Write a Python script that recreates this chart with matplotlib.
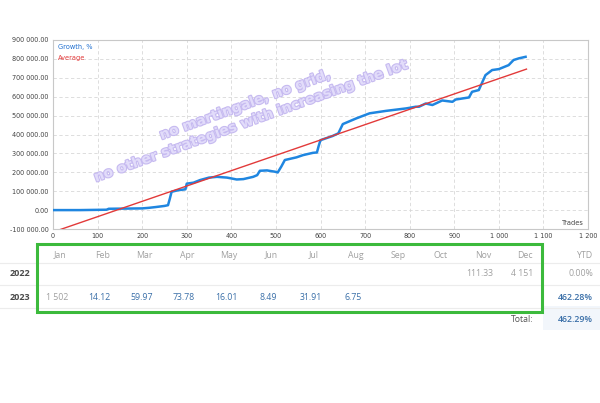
import matplotlib
matplotlib.use("Agg")
import matplotlib.pyplot as plt
import matplotlib.patheffects as pe
from matplotlib.patches import Rectangle
from matplotlib.ticker import FuncFormatter, MultipleLocator

# growth curve (trades, value)
trades = [0, 60, 120, 125, 200, 215, 230, 250, 258, 262, 266, 280, 297, 300, 315,
          330, 350, 368, 390, 397, 412, 427, 449, 458, 464, 480, 498, 504, 512, 520,
          546, 561, 583, 592, 596, 600, 627, 640, 650, 680, 710, 747, 792, 814, 821,
          836, 851, 873, 896, 903, 933, 940, 955, 970, 985, 1000, 1022, 1033, 1045, 1060]
growth = [0, 0, 2000, 7000, 9000, 12000, 16000, 22000, 26000, 60000, 97000, 105000,
          110000, 140000, 145000, 159000, 172000, 176000, 172000, 169000, 162000,
          164000, 176000, 185000, 208000, 210000, 203000, 199000, 230000, 265000,
          279000, 291000, 303000, 305000, 340000, 370000, 392000, 406000, 455000,
          485000, 512000, 525000, 538000, 547000, 547000, 564000, 556000, 580000,
          573000, 585000, 596000, 626000, 635000, 714000, 741000, 746000, 767000,
          794000, 803000, 811000]

avg_x = [0, 1062]
avg_y = [-116000, 746000]

months = ["Jan", "Feb", "Mar", "Apr", "May", "Jun", "Jul", "Aug", "Sep", "Oct", "Nov", "Dec"]
years = ["2022", "2023"]
row_2022 = ["", "", "", "", "", "", "", "", "", "", "111.33", "4 151"]
row_2023 = ["1 502", "14.12", "59.97", "73.78", "16.01", "8.49", "31.91", "6.75", "", "", "", ""]
ytd = ["0.00%", "462.28%"]
total = "462.29%"

W, H = 600, 403
fig = plt.figure(figsize=(W / 100, H / 100), dpi=100)
fig.patch.set_facecolor("white")


def fx(x):
    return x / W


def fy(y):
    return 1 - y / H


ax = fig.add_axes([fx(53), fy(229), (588 - 53) / W, (229 - 40) / H])
ax.plot(trades, growth, color="#1f86e0", lw=1.8, solid_joinstyle="round", zorder=3)
ax.plot(avg_x, avg_y, color="#e23a3a", lw=1.0, zorder=4)
ax.set_xlim(0, 1200)
ax.set_ylim(-100000, 900000)
ax.xaxis.set_major_locator(MultipleLocator(100))
ax.yaxis.set_major_locator(MultipleLocator(100000))


def thou(v):
    s = f"{abs(int(round(v))):,}".replace(",", " ")
    return ("-" if v < 0 else "") + s


ax.xaxis.set_major_formatter(FuncFormatter(lambda v, p: thou(v)))
ax.yaxis.set_major_formatter(FuncFormatter(lambda v, p: thou(v) + ".00"))
ax.tick_params(length=0, labelsize=4.7, colors="#444444", pad=3)
ax.grid(True, color="#d8d8d8", ls=(0, (4, 3)), lw=0.6)
for s in ax.spines.values():
    s.set_color("#c8c8c8")
    s.set_linewidth(0.8)

ax.text(0.01, 0.965, "Growth, %", transform=ax.transAxes, color="#1f6fd0", fontsize=4.8, va="center")
ax.text(0.01, 0.907, "Average", transform=ax.transAxes, color="#e23a3a", fontsize=4.8, va="center")
ax.text(0.993, 0.03, "Trades", transform=ax.transAxes, ha="right", va="center",
        fontsize=4.8, color="#444444")

# watermark
fig.text(fx(248), fy(113), "no martingale, no grid,\nno other strategies with increasing the lot",
         ha="center", va="center", rotation=20, fontsize=10, fontweight="heavy",
         color="#e2dcfa", linespacing=1.3, zorder=10,
         path_effects=[pe.withStroke(linewidth=1.6, foreground="#c6baf0")])

# table
tfont = "Open Sans"
grey = "#a0a0a0"
blue = "#3a6fa8"
for y in (263, 285, 308):
    fig.add_artist(plt.Line2D([0, 1], [fy(y), fy(y)], color="#ececec", lw=0.8))

fig.add_artist(Rectangle((fx(543), fy(330)), fx(57), (330 - 306) / H,
                         facecolor="#f2f6fb", edgecolor="none"))

col_x = [60 + 42.3 * i for i in range(12)]
for i, m in enumerate(months):
    fig.text(fx(col_x[i]), fy(255), m, ha="center", va="center", fontsize=6.3,
             color=grey, family=tfont)
fig.text(fx(593), fy(255), "YTD", ha="right", va="center", fontsize=6.3, color=grey, family=tfont)

row_y = [274, 297]
for r, (yr, vals) in enumerate(zip(years, [row_2022, row_2023])):
    fig.text(fx(20), fy(row_y[r]), yr, ha="center", va="center", fontsize=6.5,
             fontweight="bold", color="#4a4a4a", family=tfont)
    for i, v in enumerate(vals):
        if not v:
            continue
        c = grey if (r == 0 or i == 0) else blue
        fig.text(fx(col_x[i] - 3), fy(row_y[r]), v, ha="center", va="center",
                 fontsize=6.3, color=c, family=tfont)
    fig.text(fx(593), fy(row_y[r]), ytd[r], ha="right", va="center", fontsize=6.3,
             color=grey if r == 0 else blue, family=tfont,
             fontweight="normal" if r == 0 else "semibold")

fig.text(fx(533), fy(319), "Total:", ha="right", va="center", fontsize=6.3,
         color="#555555", family=tfont)
fig.text(fx(593), fy(319), total, ha="right", va="center", fontsize=6.3,
         color=blue, family=tfont, fontweight="semibold")

fig.add_artist(Rectangle((fx(37), fy(312)), (542 - 37) / W, (312 - 244) / H,
                         facecolor="none", edgecolor="#3cba3c", lw=2.2, zorder=20))

fig.savefig("out.png", dpi=100, facecolor="white")
